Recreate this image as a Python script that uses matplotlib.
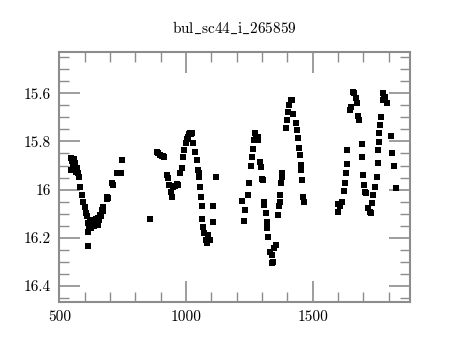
#!/usr/bin/env python3
# light curve plot for bul_sc44_i_265859 (I-band magnitude vs time)

import numpy as np
import matplotlib
matplotlib.use("Agg")
import matplotlib.pyplot as plt
from matplotlib.ticker import MultipleLocator, FuncFormatter

# ------------------------------------------------------------------------------
# data: time, magnitude, error

title_str = "bul_sc44_i_265859"

t1 = [546, 548, 551, 554, 557, 560, 563, 566, 570, 574, 578, 582, 588, 595,
      601, 604, 608, 612, 614, 614, 618, 621, 624, 628, 631, 634, 638, 641,
      644, 648, 651, 654, 658, 661, 664, 667, 671, 674, 687, 690, 693, 707,
      710, 713, 729, 735, 742, 749]
m1 = [15.870, 15.918, 15.880, 15.905, 15.872, 15.915, 15.890, 15.925, 15.910,
      15.930, 15.946, 15.988, 16.022, 16.050, 16.071, 16.097, 16.110, 16.140,
      16.174, 16.234, 16.150, 16.126, 16.160, 16.147, 16.130, 16.133, 16.150,
      16.147, 16.120, 16.133, 16.145, 16.118, 16.125, 16.105, 16.110, 16.084,
      16.090, 16.071, 16.029, 16.038, 16.036, 15.974, 15.980, 15.981, 15.932,
      15.933, 15.932, 15.877]
e1 = [0.004] * (len(t1) - 1) + [0.010]

t2 = [858, 884, 891, 897, 904, 909, 913, 924, 930, 934, 940, 944, 950, 957,
      963, 970, 976, 983, 989, 992, 1000, 1004, 1007, 1012, 1016, 1020, 1023,
      1029, 1036, 1042, 1046, 1050, 1053, 1055, 1059, 1062, 1064, 1068, 1072,
      1078, 1082, 1088, 1095, 1105, 1108, 1118]
m2 = [16.120, 15.842, 15.848, 15.855, 15.860, 15.862, 15.865, 15.940, 15.953,
      15.980, 16.008, 16.030, 15.988, 15.985, 15.975, 15.981, 15.932, 15.911,
      15.863, 15.835, 15.808, 15.790, 15.780, 15.770, 15.766, 15.768, 15.766,
      15.808, 15.842, 15.877, 15.918, 15.930, 15.946, 15.988, 16.030, 16.070,
      16.120, 16.154, 16.180, 16.210, 16.223, 16.188, 16.210, 16.133, 16.066,
      15.946]
e2 = [0.005] * len(t2)

t3 = [1222, 1230, 1233, 1244, 1249, 1257, 1259, 1263, 1268, 1272, 1276, 1283,
      1284, 1292, 1296, 1299, 1303, 1308, 1309, 1315, 1319, 1321, 1325, 1332,
      1338, 1342, 1338, 1349, 1354, 1364, 1368, 1371, 1371, 1375, 1378, 1378,
      1395, 1400, 1404, 1408, 1413, 1420, 1421, 1433, 1437, 1441, 1446, 1450,
      1454, 1454, 1457, 1463, 1466]
m3 = [16.047, 16.129, 16.084, 16.022, 15.971, 15.902, 15.863, 15.832, 15.794,
      15.766, 15.785, 15.780, 15.794, 15.884, 15.905, 15.957, 15.960, 16.050,
      16.064, 16.098, 16.133, 16.160, 16.195, 16.257, 16.271, 16.300, 16.305,
      16.243, 16.230, 16.105, 16.070, 16.050, 16.022, 15.974, 15.946, 15.932,
      15.745, 15.711, 15.676, 15.649, 15.628, 15.628, 15.686, 15.725, 15.752,
      15.787, 15.828, 15.856, 15.898, 15.918, 15.960, 16.029, 16.052]
e3 = [0.005] * len(t3)

t4 = [1599, 1600, 1608, 1617, 1625, 1628, 1632, 1634, 1637, 1647, 1650, 1658,
      1663, 1670, 1676, 1680, 1684, 1694, 1697, 1700, 1704, 1708, 1711, 1720,
      1726, 1731, 1734, 1739, 1746, 1753, 1757, 1759, 1762, 1763, 1766, 1769,
      1776, 1779, 1782, 1785, 1792, 1808, 1814, 1821, 1829]
m4 = [16.061, 16.091, 16.066, 16.050, 16.005, 15.971, 15.930, 15.893, 15.835,
      15.669, 15.656, 15.593, 15.600, 15.621, 15.641, 15.694, 15.711, 15.812,
      15.863, 15.939, 15.981, 16.008, 16.015, 16.077, 16.091, 16.098, 16.057,
      16.022, 15.988, 15.946, 15.888, 15.835, 15.801, 15.766, 15.732, 15.700,
      15.628, 15.600, 15.620, 15.614, 15.641, 15.777, 15.849, 15.902, 15.992]
e4 = [0.005] * (len(t4) - 1) + [0.010]

time = np.array(t1 + t2 + t3 + t4, dtype=float)
mag = np.array(m1 + m2 + m3 + m4)
err = np.array(e1 + e2 + e3 + e4)

# ------------------------------------------------------------------------------

plt.rcParams["font.family"] = "cmr10"
plt.rcParams["mathtext.fontset"] = "cm"
plt.rcParams["axes.unicode_minus"] = False

fig = plt.figure(figsize=(4.6, 3.4), dpi=100)
ax = fig.add_axes([0.129, 0.112, 0.762, 0.735])

ax.errorbar(time, mag, yerr=err, fmt="s", color="black", ms=3.8,
            elinewidth=0.9, capsize=1.8, capthick=0.9, mew=0)

ax.set_xlim(500, 1884)
ax.set_ylim(16.466, 15.429)

ax.xaxis.set_major_locator(MultipleLocator(500))
ax.xaxis.set_minor_locator(MultipleLocator(100))
ax.yaxis.set_major_locator(MultipleLocator(0.2))
ax.yaxis.set_minor_locator(MultipleLocator(0.05))
ax.yaxis.set_major_formatter(FuncFormatter(lambda v, p: "%g" % round(v, 2)))

grey = "#8c8c8c"
for sp in ax.spines.values():
    sp.set_color(grey)
    sp.set_linewidth(1.5)
ax.tick_params(which="both", direction="in", top=True, right=True,
               color=grey, labelsize=11, labelcolor="black")
ax.tick_params(which="major", length=15, width=1.2, pad=6)
ax.tick_params(which="minor", length=7, width=1.0)

# mathtext so the underscores come out right in computer modern
tstr = r"$\mathrm{" + title_str.replace("_", r"\_") + "}$"
ax.set_title(tstr, fontsize=11, pad=14)

fig.savefig("out.png", dpi=100)
